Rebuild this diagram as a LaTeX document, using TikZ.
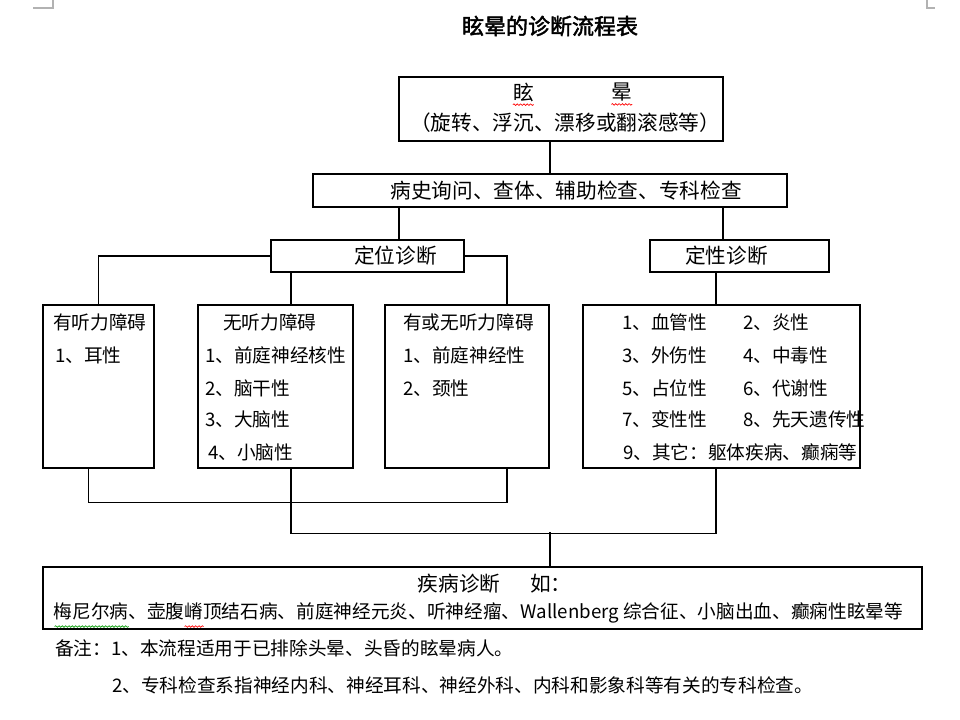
\documentclass[tikz,border=0pt]{standalone}
\usepackage{fontspec}
\setmainfont{Noto Sans CJK SC}
\newfontfamily\titlefont[FakeBold=2]{Noto Sans CJK SC}
\usetikzlibrary{calc,decorations.pathmorphing}
\begin{document}
\begin{tikzpicture}[x=0.75pt,y=-0.75pt,
  box/.style={draw, line width=1.1pt, inner sep=0pt},
  conn/.style={line width=1.1pt},
  big/.style={inner sep=0pt, font=\fontsize{15.5}{17}\selectfont},
  item/.style={inner sep=0pt, anchor=west, font=\fontsize{14}{16}\selectfont},
  note/.style={inner sep=0pt, anchor=west, font=\fontsize{14}{16}\selectfont},
  pagemark/.style={draw=gray!60, line width=0.8pt},
  squig/.style={decorate, decoration={snake, amplitude=0.6pt, segment length=2.5pt}, line width=0.5pt}]
\useasboundingbox (0,0) rectangle (960,720);
% page corner marks
\coordinate (pl) at (53,0);
\coordinate (pr) at (927,0);
\draw[pagemark] (pl) -- ++(0,8) -- ++(-20,0);
\draw[pagemark] (pr) -- ++(0,8) -- ++(8,0);
% title
\node[inner sep=0pt, font=\titlefont\fontsize{16.5}{18}\selectfont] (title) at (550,26) {眩晕的诊断流程表};
% boxes
\node[box, minimum width=243pt, minimum height=48pt] (top) at (561,109) {};
\node[box, minimum width=355.5pt, minimum height=24.75pt] (hist) at (550,190.5) {};
\node[box, minimum width=144.75pt, minimum height=24pt] (dw) at (367.5,256) {};
\node[box, minimum width=134.25pt, minimum height=24pt] (dx) at (739.5,256) {};
\node[box, minimum width=83.25pt, minimum height=122.25pt] (b1) at (98.5,386.5) {};
\node[box, minimum width=116.25pt, minimum height=122.25pt] (b2) at (275.5,386.5) {};
\node[box, minimum width=123pt, minimum height=122.25pt] (b3) at (467,386.5) {};
\node[box, minimum width=207.75pt, minimum height=122.25pt] (b4) at (721.5,386.5) {};
\node[box, minimum width=659.25pt, minimum height=46.5pt] (dis) at (482.5,598) {};
% texts
\node[big] (t1a) at (523.5,92) {眩};
\node[big] (t1b) at (622,92) {晕};
\node[big] (t1c) at (565,123) {（旋转、浮沉、漂移或翻滚感等）};
\node[big] (t2) at (566,191) {病史询问、查体、辅助检查、专科检查};
\node[big] (t3) at (395.5,256) {定位诊断};
\node[big] (t4) at (726.5,256) {定性诊断};
\node[item] (a0) at (53,322) {有听力障碍};
\node[item] (a1) at (55,355) {1、耳性};
\node[item] (c0) at (223,322) {无听力障碍};
\node[item] (c1) at (205,355) {1、前庭神经核性};
\node[item] (c2) at (205,388) {2、脑干性};
\node[item] (c3) at (205,419) {3、大脑性};
\node[item] (c4) at (208,452) {4、小脑性};
\node[item] (e0) at (403,322) {有或无听力障碍};
\node[item] (e1) at (403,355) {1、前庭神经性};
\node[item] (e2) at (403,388) {2、颈性};
\node[item] (f1) at (622,322) {1、血管性};
\node[item] (f2) at (743,322) {2、炎性};
\node[item] (f3) at (622,355) {3、外伤性};
\node[item] (f4) at (743,355) {4、中毒性};
\node[item] (f5) at (622,388) {5、占位性};
\node[item] (f6) at (743,388) {6、代谢性};
\node[item] (f7) at (622,419) {7、变性性};
\node[item] (f8) at (743,419) {8、先天遗传性};
\node[item] (f9) at (623,452) {9、其它：躯体疾病、癫痫等};
\node[big] (g0) at (459,584) {疾病诊断};
\node[big, anchor=west] (g1) at (530,584) {如：};
\node[inner sep=0pt, font=\fontsize{14}{16}\selectfont] (g2) at (478.5,613) {梅尼尔病、壶腹嵴顶结石病、前庭神经元炎、听神经瘤、Wallenberg 综合征、小脑出血、癫痫性眩晕等};
\node[note] (n1) at (55,648) {备注：1、本流程适用于已排除头晕、头昏的眩晕病人。};
\node[note] (n2) at (112,685) {2、专科检查系指神经内科、神经耳科、神经外科、内科和影象科等有关的专科检查。};
% spell-check squiggles
\draw[squig, red] ($(t1a.south west)+(0,3)$) -- ++(21,0);
\draw[squig, red] ($(t1b.south west)+(0,3)$) -- ++(21,0);
\draw[squig, green!60!black] ($(g2.south west)+(1,3)$) -- ++(74,0);
\draw[squig, red] ($(g2.south west)+(131,3)$) -- ++(19,0);
% connectors
\draw[conn] (hist.north) -- (hist.north |- top.south);
\coordinate (h1) at ($(dw.north)+(31.5,0)$);
\coordinate (h2) at ($(dx.north)+(-16.5,0)$);
\draw[conn] (h1) -- (h1 |- hist.south);
\draw[conn] (h2) -- (h2 |- hist.south);
\coordinate (u2) at ($(b2.north)+(15.5,0)$);
\coordinate (u3) at ($(b3.north)+(40,0)$);
\coordinate (u4) at ($(b4.north)+(-5.5,0)$);
\draw[conn] (dw.west) -| (b1.north);
\draw[conn] (u2) -- (u2 |- dw.south);
\draw[conn] (dw.east) -| (u3);
\draw[conn] (u4) -- (u4 |- dx.south);
\coordinate (d1) at ($(b1.south)+(-10,0)$);
\coordinate (d2) at ($(b2.south)+(15.5,0)$);
\coordinate (d3) at ($(b3.south)+(40,0)$);
\coordinate (d4) at ($(b4.south)+(-5.5,0)$);
\draw[conn] (d1) -- ++(0,34) -| (d3);
\draw[conn] (d2) -- ++(0,65) -| (d4);
\draw[conn] (dis.north -| hist.south) -- ++(0,-34);
\end{tikzpicture}
\end{document}
